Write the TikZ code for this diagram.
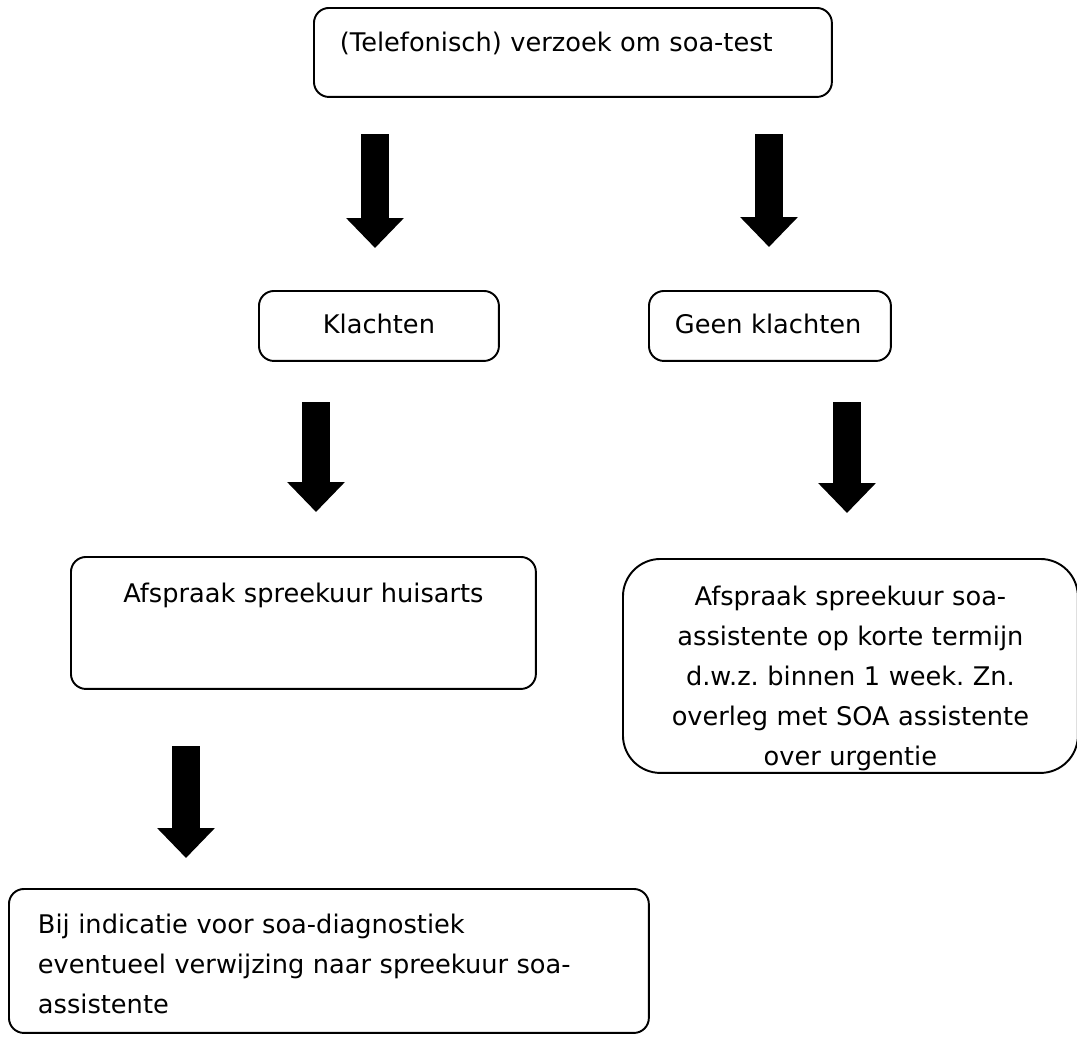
\documentclass[tikz,border=0pt]{standalone}
\usepackage{fontspec}
\setmainfont{DejaVu Sans}
\frenchspacing
\usetikzlibrary{arrows.meta}
\tikzset{
  box/.style  = {rectangle, draw=black, line width=1.1pt, rounded corners=#1,
                 anchor=north west, inner sep=0pt,
                 font=\fontsize{14.6}{22.7}\selectfont},
  box/.default = 0.3cm,
  fat/.style  = {line width=0.56cm, -{Triangle[width=1.12cm, length=0.6cm]}},
}

\begin{document}
\begin{tikzpicture}[x=0.02cm, y=-0.02cm]
  \useasboundingbox (0,0) rectangle (1077,1038);

  \node[box, inner xsep=0.52cm, text width=9.32cm, align=left,
        text height=0.88cm, text depth=0.9cm] (req) at (313,7)
        {(Telefonisch) verzoek om soa-test};

  \node[box, text width=4.8cm, align=center,
        text height=0.86cm, text depth=0.54cm] (kl) at (258,290)
        {Klachten};
  \node[box, inner xsep=0.52cm, text width=3.8cm, align=left,
        text height=0.86cm, text depth=0.54cm] (gkl) at (648,290)
        {Geen klachten};

  \node[box, text width=9.3cm, align=center,
        text height=0.92cm, text depth=1.72cm] (ha) at (70,556)
        {Afspraak spreekuur huisarts};
  \node[box=0.75cm, text width=9.1cm, align=center,
        text height=0.94cm, text depth=3.34cm] (soa) at (622,558)
        {Afspraak spreekuur soa-\\assistente op korte termijn\\
         d.w.z. binnen 1 week. Zn.\\overleg met SOA assistente\\
         over urgentie};

  \node[box, inner xsep=0.58cm, text width=11.64cm, align=left,
        text height=0.9cm, text depth=1.98cm] (ref) at (8,888)
        {Bij indicatie voor soa-diagnostiek\\
         eventueel verwijzing naar spreekuur soa-\\assistente};

  %% Arrow ends
  \coordinate (a1s) at (375,134);  \coordinate (a1e) at (375,248);
  \coordinate (a2s) at (769,134);  \coordinate (a2e) at (769,247);
  \coordinate (a3s) at (316,402);  \coordinate (a3e) at (316,512);
  \coordinate (a4s) at (847,402);  \coordinate (a4e) at (847,513);
  \coordinate (a5s) at (186,746);  \coordinate (a5e) at (186,858);

  \draw[fat] (a1s) -- (a1e);
  \draw[fat] (a2s) -- (a2e);
  \draw[fat] (a3s) -- (a3e);
  \draw[fat] (a4s) -- (a4e);
  \draw[fat] (a5s) -- (a5e);

\end{tikzpicture}
\end{document}
